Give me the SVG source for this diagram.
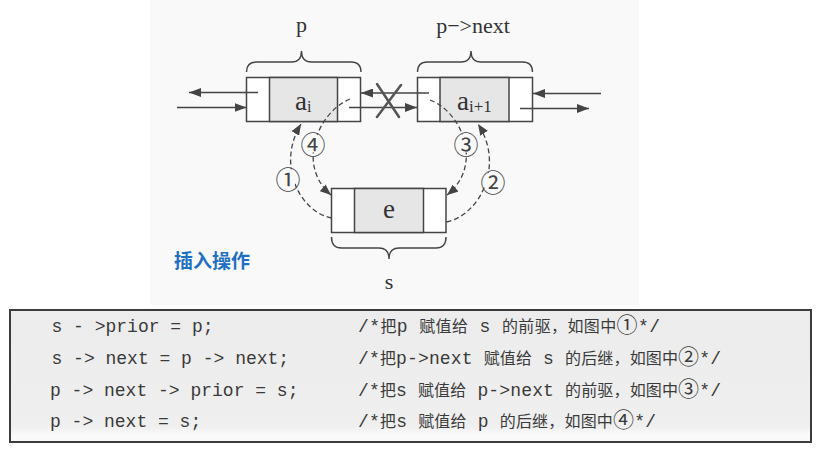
<svg xmlns="http://www.w3.org/2000/svg" width="821" height="452" viewBox="0 0 821 452">
  <style>
    .box { fill: #ffffff; stroke: #444; stroke-width: 1.5; }
    .data { fill: #e6e6e6; stroke: #444; stroke-width: 1.5; }
    .link { fill: none; stroke: #444; stroke-width: 1.5; }
    .dash { fill: none; stroke: #444; stroke-width: 1.3; stroke-dasharray: 5 3; }
    .brace { fill: none; stroke: #444; stroke-width: 1.4; }
    .serif { font-family: "Liberation Serif", "DejaVu Serif", serif; fill: #333; }
    .num { font-family: "Noto Sans CJK SC", "DejaVu Sans", sans-serif; font-size: 25px; fill: #444; text-anchor: middle; dominant-baseline: central; }
    .numbg { fill: #f9f9f9; }
    .code { font-family: "Liberation Mono", "Noto Sans CJK SC", monospace; font-size: 18px; fill: #3a3a3a; }
    .cjk { font-family: "Noto Sans CJK SC", sans-serif; font-size: 16px; }
    .circ { font-family: "Noto Sans CJK SC", sans-serif; font-size: 21px; }
    .title { font-family: "Noto Sans CJK SC", sans-serif; font-size: 19px; font-weight: bold; fill: #1f6fc2; }
  </style>
  <defs>
    <marker id="arr" markerUnits="userSpaceOnUse" markerWidth="13" markerHeight="9" refX="12" refY="4.5" orient="auto">
      <path d="M0,0 L12,4.5 L0,9 z" fill="#444"/>
    </marker>
    <marker id="arrd" markerUnits="userSpaceOnUse" markerWidth="12" markerHeight="9" refX="11" refY="4.5" orient="auto">
      <path d="M0,0 L11,4.5 L0,9 z" fill="#444"/>
    </marker>
    <linearGradient id="boxfill" x1="0" y1="0" x2="0" y2="1">
      <stop offset="0" stop-color="#ececec"/>
      <stop offset="0.88" stop-color="#efefef"/>
      <stop offset="0.95" stop-color="#fafafa"/>
      <stop offset="1" stop-color="#fafafa"/>
    </linearGradient>
  </defs>

  <rect x="0" y="0" width="821" height="452" fill="#ffffff"/>
  <rect x="150" y="0" width="489" height="305" fill="#f9f9f9"/>

  <g id="node-p">
    <rect class="box" x="246.5" y="77.5" width="114" height="44"/>
    <rect class="data" x="269.5" y="77.5" width="68" height="44"/>
    <text class="serif" x="295" y="110" font-size="27">a<tspan font-size="16" dy="2">i</tspan></text>
    <path class="brace" d="M246.5,72 Q246.5,62 256.5,62 L291.5,62 Q301.5,62 301.5,51 Q301.5,62 311.5,62 L351,62 Q361,62 361,72"/>
    <text class="serif" x="301.5" y="32" font-size="22" text-anchor="middle">p</text>
  </g>

  <g id="node-next">
    <rect class="box" x="417.5" y="77.5" width="115" height="44"/>
    <rect class="data" x="440" y="77.5" width="69" height="44"/>
    <text class="serif" x="457" y="110" font-size="27">a<tspan font-size="17" dy="2">i+1</tspan></text>
    <path class="brace" d="M417.5,72 Q417.5,62 427.5,62 L461,62 Q471,62 471,51 Q471,62 481,62 L522.5,62 Q532.5,62 532.5,72"/>
    <text class="serif" x="473" y="33" font-size="22" text-anchor="middle">p−&gt;next</text>
  </g>

  <g id="node-s">
    <rect class="box" x="331.5" y="188.5" width="114.5" height="44"/>
    <rect class="data" x="354.5" y="188.5" width="69" height="44"/>
    <text class="serif" x="389" y="218" font-size="27" text-anchor="middle">e</text>
    <path class="brace" d="M331.5,237 Q331.5,248 341.5,248 L379,248 Q389,248 389,259 Q389,248 399,248 L436,248 Q446,248 446,237"/>
    <text class="serif" x="389" y="289" font-size="22" text-anchor="middle">s</text>
  </g>

  <g id="connectors">
    <line class="link" x1="258" y1="92.5" x2="189" y2="92.5" marker-end="url(#arr)"/>
    <line class="link" x1="177" y1="107.5" x2="246.5" y2="107.5" marker-end="url(#arr)"/>
    <line class="link" x1="429" y1="93" x2="361" y2="93" marker-end="url(#arr)"/>
    <line class="link" x1="349" y1="107.5" x2="417" y2="107.5" marker-end="url(#arr)"/>
    <line class="link" x1="601" y1="93.5" x2="533" y2="93.5" marker-end="url(#arr)"/>
    <line class="link" x1="520" y1="108.5" x2="589" y2="108.5" marker-end="url(#arr)"/>
    <g id="cross" stroke="#555" stroke-width="2.5" stroke-linecap="round">
      <line x1="377" y1="84" x2="399" y2="117"/>
      <line x1="401" y1="85" x2="377" y2="117"/>
    </g>
    <path id="link1" class="dash" d="M331.5,218 C300,212 276,165 301,124" marker-end="url(#arrd)"/>
    <path id="link4" class="dash" d="M350,99 C318,112 296,165 331,195" marker-end="url(#arrd)"/>
    <path id="link3" class="dash" d="M430,100 C462,112 484,165 447,195" marker-end="url(#arrd)"/>
    <path id="link2" class="dash" d="M446.5,222 C480,215 505,165 478,124" marker-end="url(#arrd)"/>
    <circle class="numbg" cx="288" cy="178" r="9.5"/>
    <circle class="numbg" cx="313" cy="143" r="9.5"/>
    <circle class="numbg" cx="466" cy="143" r="9.5"/>
    <circle class="numbg" cx="493" cy="181" r="9.5"/>
    <text class="num" x="288" y="178">①</text>
    <text class="num" x="313" y="143">④</text>
    <text class="num" x="466" y="143">③</text>
    <text class="num" x="493" y="181">②</text>
  </g>

  <text class="title" x="174" y="268">插入操作</text>

  <g id="code-box">
    <rect x="10" y="310" width="801" height="132" fill="url(#boxfill)" stroke="#3c3c3c" stroke-width="2"/>
    <text class="code" x="51.5" y="332" xml:space="preserve">s - &gt;prior = p;</text>
    <text class="code" x="51.5" y="364" xml:space="preserve">s -&gt; next = p -&gt; next;</text>
    <text class="code" x="50" y="396" xml:space="preserve">p -&gt; next -&gt; prior = s;</text>
    <text class="code" x="50" y="427" xml:space="preserve">p -&gt; next = s;</text>

    <text class="code" x="358" y="332" textLength="302" lengthAdjust="spacing" xml:space="preserve">/*<tspan class="cjk">把</tspan>p <tspan class="cjk">赋值给</tspan> s <tspan class="cjk">的前驱，如图中</tspan><tspan class="circ">①</tspan>*/</text>
    <text class="code" x="358" y="364" textLength="363" lengthAdjust="spacing" xml:space="preserve">/*<tspan class="cjk">把</tspan>p-&gt;next <tspan class="cjk">赋值给</tspan> s <tspan class="cjk">的后继，如图中</tspan><tspan class="circ">②</tspan>*/</text>
    <text class="code" x="358" y="396" textLength="363" lengthAdjust="spacing" xml:space="preserve">/*<tspan class="cjk">把</tspan>s <tspan class="cjk">赋值给</tspan> p-&gt;next <tspan class="cjk">的前驱，如图中</tspan><tspan class="circ">③</tspan>*/</text>
    <text class="code" x="358" y="427" textLength="298" lengthAdjust="spacing" xml:space="preserve">/*<tspan class="cjk">把</tspan>s <tspan class="cjk">赋值给</tspan> p <tspan class="cjk">的后继，如图中</tspan><tspan class="circ">④</tspan>*/</text>
  </g>
</svg>
